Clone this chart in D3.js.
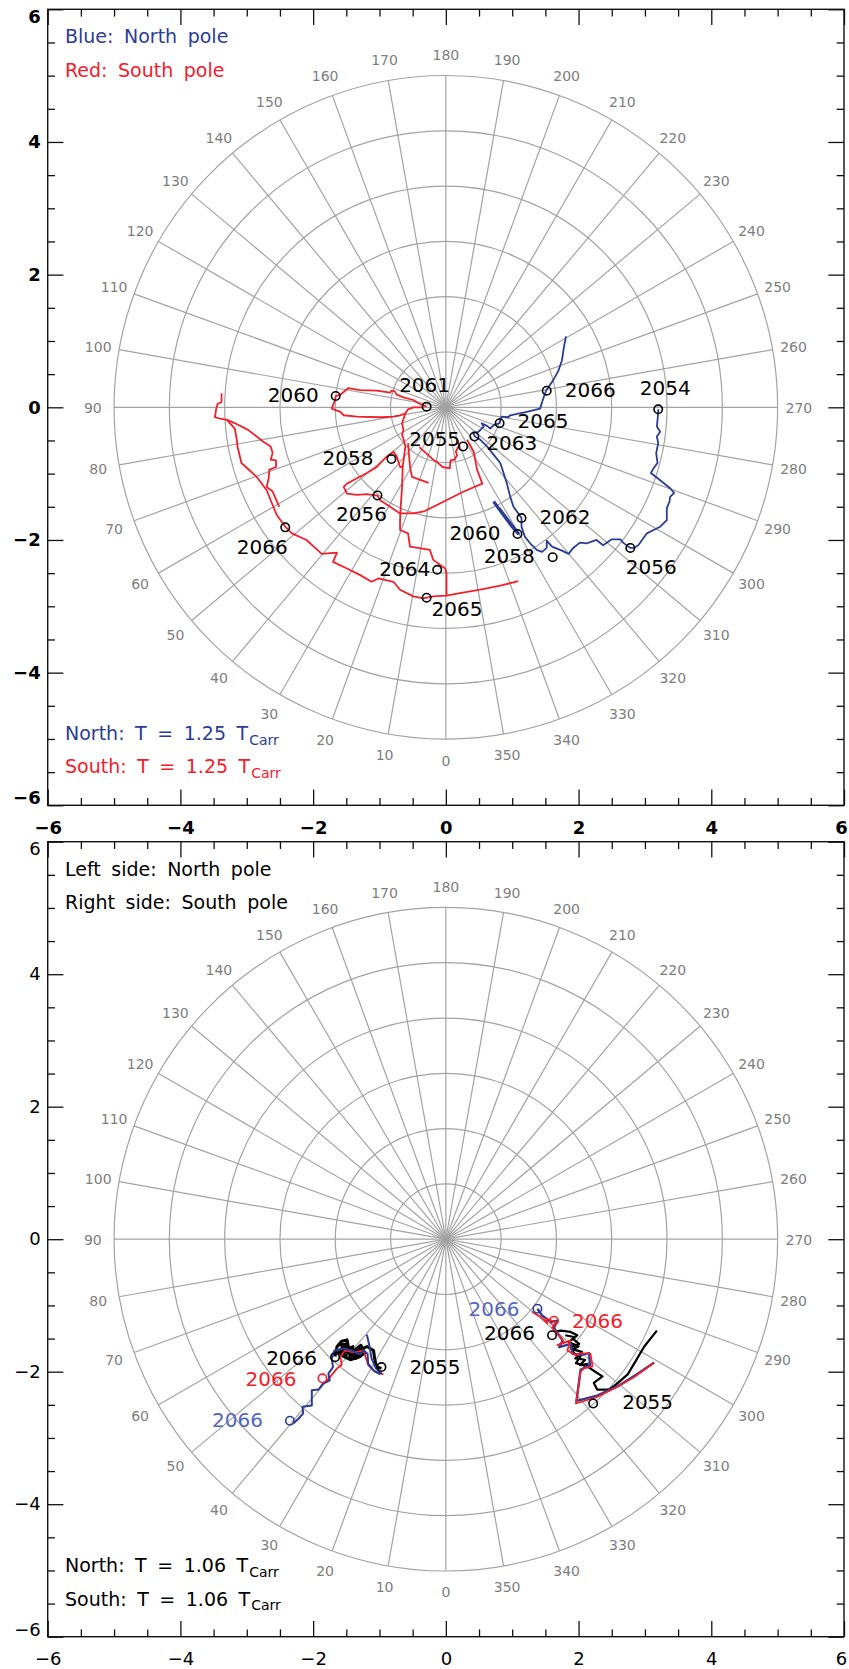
<!DOCTYPE html>
<html>
<head>
<meta charset="utf-8">
<script src="https://cdn.jsdelivr.net/npm/d3@7"></script>
<style>
  body { margin: 0; background: #fff; }
  svg { display: block; }
  text { font-family: "DejaVu Sans", sans-serif; }
</style>
</head>
<body>
<div id="chart"></div>
<script>
// ---------- data ----------
var majorTicks = [-6, -4, -2, 0, 2, 4, 6];
var minorTicks = [-6, -5.5, -5, -4.5, -4, -3.5, -3, -2.5, -2, -1.5, -1, -0.5, 0,
                  0.5, 1, 1.5, 2, 2.5, 3, 3.5, 4, 4.5, 5, 5.5, 6];
var ringRadii = [0.833, 1.667, 2.5, 3.333, 4.167, 5];
var spokeAngles = [0, 10, 20, 30, 40, 50, 60, 70, 80, 90, 100, 110, 120, 130, 140, 150, 160, 170,
                   180, 190, 200, 210, 220, 230, 240, 250, 260, 270, 280, 290, 300, 310, 320, 330, 340, 350];
var outerRadius = 5;
var spokeLabelRadius = 5.32;

// top panel: red = south pole track (several pieces)
var topRedTrack = [
  [[-3.38,0.21],[-3.38,0.08],[-3.44,0.05],[-3.46,-0.02],[-3.48,-0.15],[-3.40,-0.17],[-3.30,-0.19],
   [-3.20,-0.23],[-2.98,-0.34],[-2.75,-0.52],[-2.64,-0.59],[-2.61,-0.69],[-2.64,-0.79],[-2.56,-0.80],
   [-2.56,-0.90],[-2.66,-0.94],[-2.67,-1.07],[-2.70,-1.20],[-2.61,-1.27],[-2.51,-1.50]],
  [[-3.30,-0.19],[-3.18,-0.32],[-3.15,-0.49],[-3.14,-0.59],[-3.08,-0.84],[-2.85,-1.05],[-2.70,-1.25],
   [-2.62,-1.45],[-2.55,-1.62],[-2.42,-1.80],[-2.32,-1.90],[-2.10,-2.00],[-1.97,-2.12],[-1.87,-2.21],
   [-1.64,-2.19],[-1.70,-2.33],[-1.49,-2.43],[-1.29,-2.53],[-1.12,-2.63],[-1.02,-2.58],[-0.79,-2.63],
   [-0.69,-2.75],[-0.49,-2.85],[-0.34,-2.88],[-0.19,-2.85],[0.01,-2.84],[0.21,-2.80],[0.52,-2.75],
   [0.82,-2.69],[1.09,-2.62]],
  [[-0.61,-0.09],[-0.66,-0.24],[-0.64,-0.34],[-0.66,-0.42],[-0.64,-0.47],[-0.61,-0.59],[-0.65,-0.90],
   [-0.66,-1.20],[-0.68,-1.50],[-0.69,-1.70],[-0.69,-1.85],[-0.57,-1.90],[-0.54,-2.10],[-0.24,-2.15],
   [-0.19,-2.30],[-0.01,-2.43],[0.01,-2.50],[0.01,-2.70],[0.01,-2.84]],
  [[0.32,-0.49],[0.42,-0.67],[0.47,-0.94],[0.55,-1.15],[0.27,-1.27],[-0.03,-1.42],[-0.33,-1.57],
   [-0.49,-1.60],[-0.69,-1.60],[-0.84,-1.50],[-0.99,-1.40],[-1.03,-1.33],[-1.19,-1.31],[-1.34,-1.32],
   [-1.49,-1.30],[-1.54,-1.20],[-1.49,-1.15],[-1.34,-1.07],[-1.19,-0.99],[-1.04,-0.90],[-0.89,-0.74],
   [-0.79,-0.67],[-0.74,-0.74],[-0.69,-0.90],[-0.65,-0.90]],
  [[-0.57,-0.54],[-0.54,-0.90],[-0.51,-1.05],[-0.26,-1.14]],
  [[0.17,-0.49],[0.20,-0.57],[0.15,-0.67],[0.17,-0.72],[0.13,-0.79],[0.07,-0.80],[0.06,-0.92],
   [-0.05,-0.90],[-0.14,-0.82],[-0.19,-0.79],[-0.40,-0.60]],
  [[-0.34,0.00],[-0.49,0.00],[-0.57,-0.03],[-0.61,-0.09],[-0.69,-0.12],[-0.79,-0.14],[-0.99,-0.15],
   [-1.34,-0.14],[-1.54,-0.12],[-1.59,-0.07],[-1.72,-0.02],[-1.67,0.11],[-1.66,0.17],[-1.59,0.19],
   [-1.47,0.29],[-1.29,0.26],[-1.04,0.25],[-0.84,0.22],[-0.82,0.25],[-0.77,0.24],[-0.74,0.19],
   [-0.64,0.15],[-0.49,0.11],[-0.39,0.05],[-0.29,0.01]]
];

// top panel: blue = north pole track
var topBlueTrack = [
  [[3.20,-0.03],[3.20,-0.09],[3.18,-0.29],[3.23,-0.37],[3.18,-0.44],[3.20,-0.54],[3.17,-0.69],
   [3.19,-0.84],[3.13,-0.92],[3.09,-0.99],[3.23,-1.10],[3.38,-1.22],[3.44,-1.29],[3.38,-1.35],
   [3.37,-1.42],[3.33,-1.52],[3.33,-1.70],[3.23,-1.80],[3.13,-1.85],[3.03,-1.90],[2.90,-2.08],
   [2.83,-2.12],[2.78,-2.12],[2.67,-2.04],[2.63,-1.99],[2.50,-1.99],[2.37,-2.08],[2.27,-2.00],
   [2.12,-2.05],[2.02,-2.04],[1.92,-2.12],[1.85,-2.21],[1.75,-2.16],[1.60,-2.10],[1.52,-2.01],
   [1.52,-2.12],[1.45,-2.18],[1.37,-2.15],[1.27,-2.05],[1.19,-1.95],[1.14,-1.80],[1.14,-1.67],
   [1.02,-1.50],[0.97,-1.35],[0.92,-1.15],[0.87,-0.99],[0.82,-0.84],[0.74,-0.74],[0.62,-0.59],
   [0.52,-0.49],[0.44,-0.44],[0.41,-0.39],[0.49,-0.37],[0.57,-0.29],[0.54,-0.24],[0.62,-0.28],
   [0.67,-0.32],[0.72,-0.27],[0.81,-0.24],[0.84,-0.14],[0.94,-0.15],[0.97,-0.12],[1.22,-0.07],
   [1.42,-0.02],[1.46,0.11],[1.51,0.25],[1.62,0.41],[1.70,0.56],[1.75,0.71],[1.78,0.91],[1.81,1.07]]
];
var topBlueSpur = [[0.72,-1.42],[0.85,-1.60],[1.00,-1.80],[1.09,-1.90],[0.98,-1.76],[0.80,-1.52]];

var topRedYears = [
  {year: 2055, x: 0.26, y: -0.59}, {year: 2056, x: -1.03, y: -1.33}, {year: 2058, x: -0.82, y: -0.78},
  {year: 2060, x: -1.66, y: 0.17}, {year: 2061, x: -0.29, y: 0.01}, {year: 2064, x: -0.13, y: -2.45},
  {year: 2065, x: -0.29, y: -2.87}, {year: 2066, x: -2.42, y: -1.81}
];
var topBlueYears = [
  {year: 2054, x: 3.20, y: -0.03}, {year: 2056, x: 2.78, y: -2.12}, {year: 2058, x: 1.61, y: -2.26},
  {year: 2060, x: 1.08, y: -1.91}, {year: 2062, x: 1.14, y: -1.67}, {year: 2063, x: 0.43, y: -0.44},
  {year: 2065, x: 0.81, y: -0.24}, {year: 2066, x: 1.52, y: 0.25}
];

// bottom panel tracks
var botNorthBlue = [
  [[-2.30,-2.78],[-2.22,-2.71],[-2.15,-2.63],[-2.16,-2.53],[-2.02,-2.51],[-2.02,-2.28],[-1.92,-2.27],
   [-1.85,-2.18],[-1.75,-2.13],[-1.77,-2.03],[-1.70,-1.93],[-1.72,-1.81],[-1.68,-1.68],[-1.54,-1.65],
   [-1.42,-1.68],[-1.29,-1.74],[-1.24,-1.68],[-1.18,-1.73],[-1.17,-1.88],[-1.09,-1.98],[-0.99,-2.04]],
  [[-1.19,-1.44],[-1.15,-1.62],[-1.12,-1.80],[-1.06,-1.94],[-0.97,-2.03]]
];
var botNorthRed = [
  [[-1.80,-2.15],[-1.72,-2.05],[-1.64,-1.95],[-1.57,-1.90],[-1.59,-1.77],[-1.52,-1.68],[-1.39,-1.71],
   [-1.24,-1.68],[-1.17,-1.90],[-1.07,-2.00],[-0.94,-2.04]]
];
var botNorthBlack = [
  [[-1.67,-1.77],[-1.64,-1.62],[-1.57,-1.54],[-1.49,-1.52],[-1.47,-1.62],[-1.54,-1.68],[-1.44,-1.73],
   [-1.34,-1.65],[-1.24,-1.68],[-1.29,-1.77],[-1.44,-1.82],[-1.54,-1.77],[-1.59,-1.73],[-1.49,-1.68],
   [-1.39,-1.77],[-1.32,-1.68],[-1.19,-1.62],[-1.09,-1.68],[-1.07,-1.82],[-1.04,-1.93],[-0.97,-1.95]],
  [[-1.62,-1.60],[-1.50,-1.58],[-1.58,-1.70],[-1.40,-1.62],[-1.45,-1.78],[-1.30,-1.70],[-1.36,-1.80],
   [-1.22,-1.72],[-1.28,-1.60],[-1.40,-1.70],[-1.55,-1.62],[-1.62,-1.72],[-1.48,-1.75]]
];
var botSouthRed = [
  [[1.30,-1.10],[1.43,-1.17],[1.53,-1.27],[1.51,-1.20],[1.66,-1.25],[1.60,-1.34],[1.73,-1.48],
   [1.78,-1.55],[1.68,-1.60],[1.88,-1.53],[1.83,-1.68],[1.96,-1.75],[2.03,-1.72],[2.18,-1.73],
   [2.21,-1.92],[2.08,-1.95],[2.03,-2.00],[1.96,-2.48],[2.28,-2.38],[2.58,-2.23],[2.84,-2.08],[3.13,-1.87]]
];
var botSouthBlue = [
  [[1.38,-1.05],[1.45,-1.15],[1.58,-1.25],[1.68,-1.23],[1.63,-1.34],[1.76,-1.53],[1.71,-1.63],
   [1.88,-1.58],[1.91,-1.73],[2.03,-1.75],[2.16,-1.72],[2.17,-1.90],[2.03,-1.97],[1.97,-2.44],
   [2.28,-2.36],[2.61,-2.21],[2.89,-2.03],[3.14,-1.86]]
];
var botSouthBlack = [
  [[1.66,-1.39],[1.73,-1.38],[1.88,-1.40],[1.98,-1.45],[1.91,-1.50],[2.01,-1.58],[1.88,-1.63],
   [1.93,-1.72],[2.03,-1.77],[1.96,-1.87],[2.13,-1.92],[2.28,-2.02],[2.36,-2.07],[2.23,-2.17],
   [2.28,-2.27],[2.46,-2.27],[2.58,-2.18],[2.74,-2.04],[2.86,-1.84],[2.99,-1.62],[3.18,-1.38]],
  [[1.80,-1.45],[1.95,-1.48],[1.85,-1.55],[2.00,-1.62],[1.90,-1.66],[2.05,-1.70],[1.95,-1.80],
   [2.10,-1.82],[2.02,-1.90],[2.15,-1.88]]
];
var botYears = [
  {label: "2066", tone: "lightblue", x: -2.35, y: -2.74},
  {label: "2066", tone: "red", x: -1.86, y: -2.10},
  {label: "2066", tone: "black", x: -1.67, y: -1.78},
  {label: "2055", tone: "black", x: -0.97, y: -1.93},
  {label: "2066", tone: "lightblue", x: 1.38, y: -1.05},
  {label: "2066", tone: "red", x: 1.63, y: -1.23},
  {label: "2066", tone: "black", x: 1.60, y: -1.45},
  {label: "2055", tone: "black", x: 2.22, y: -2.48}
];

// ---------- layout / style ----------
var BLUE = "#2b3c95", RED = "#f2202b", LIGHTBLUE = "#5567bd", GRID = "#a3a3a3", GRIDTEXT = "#7e7e7e";
var toneColor = {black: "#000", red: RED, lightblue: LIGHTBLUE, blue: BLUE};

// label placement [anchor, dx, dy] in pixels
var topRedLabelPos = {2055: ["end", -3, -8], 2056: ["middle", -16, 18], 2058: ["end", -18, -1],
  2060: ["end", -17, -1], 2061: ["middle", -2, -22], 2064: ["end", -7, -1], 2065: ["start", 5, 11],
  2066: ["middle", -23, 19]};
var topBlueLabelPos = {2054: ["middle", 7, -21], 2056: ["middle", 21, 19], 2058: ["end", -18, -1],
  2060: ["end", -17, -1], 2062: ["start", 18, -1], 2063: ["start", 12, 6], 2065: ["start", 18, -2],
  2066: ["start", 18, -1]};
var botLabelPos = [["end", -27, -1], ["end", -26, 0], ["end", -18, 1], ["start", 28, 0],
                   ["end", -18, 0], ["start", 18, 0], ["end", -17, -2], ["start", 29, -2]];

var W = 849, H = 1669;
var svg = d3.select("#chart").append("svg").attr("width", W).attr("height", H);
var x = d3.scaleLinear().domain([-6, 6]).range([47.7, 844]);
var rad = Math.PI / 180;

function polar(a, r) { return [-r * Math.sin(a * rad), -r * Math.cos(a * rad)]; }

function drawPanel(p) {
  var y = d3.scaleLinear().domain([-6, 6]).range([p.bottom, p.top]);
  var g = svg.append("g");

  // polar grid
  var grid = g.append("g").attr("stroke", GRID).attr("stroke-width", 1.2).attr("fill", "none");
  grid.selectAll("circle").data(ringRadii).join("circle")
    .attr("cx", x(0)).attr("cy", y(0)).attr("r", d => x(d) - x(0));
  grid.selectAll("line").data(spokeAngles).join("line")
    .attr("x1", x(0)).attr("y1", y(0))
    .attr("x2", d => x(polar(d, outerRadius)[0]))
    .attr("y2", d => y(polar(d, outerRadius)[1]));
  g.append("g").selectAll("text").data(spokeAngles).join("text")
    .attr("x", d => x(polar(d, spokeLabelRadius)[0]))
    .attr("y", d => y(polar(d, spokeLabelRadius)[1]))
    .attr("dy", "0.4em")
    .attr("text-anchor", "middle")
    .attr("font-size", 14)
    .attr("fill", GRIDTEXT)
    .text(d => d);

  // tracks
  var line = d3.line().x(d => x(d[0])).y(d => y(d[1]));
  p.tracks.forEach(function (t) {
    g.append("g").selectAll("path").data(t.data).join("path")
      .attr("d", line)
      .attr("fill", "none")
      .attr("stroke", t.color)
      .attr("stroke-width", t.width)
      .attr("stroke-linejoin", "round");
  });

  // year markers + labels
  p.years.forEach(function (ys) {
    var mk = g.append("g");
    mk.selectAll("circle").data(ys.data).join("circle")
      .attr("cx", d => x(d.x)).attr("cy", d => y(d.y)).attr("r", 4.2)
      .attr("fill", "none")
      .attr("stroke", d => ys.markerColor(d))
      .attr("stroke-width", 1.6);
    mk.selectAll("text").data(ys.data).join("text")
      .attr("x", (d, i) => x(d.x) + ys.pos(d, i)[1])
      .attr("y", (d, i) => y(d.y) + ys.pos(d, i)[2])
      .attr("dy", "0.36em")
      .attr("text-anchor", (d, i) => ys.pos(d, i)[0])
      .attr("font-size", 20)
      .attr("fill", d => ys.textColor(d))
      .text(d => d.label || d.year);
  });

  // frame and ticks
  var left = x.range()[0], right = x.range()[1];
  var minorOnly = minorTicks.filter(d => d % 2 !== 0);
  var axes = g.append("g");
  function styleAxis(sel) {
    sel.select(".domain").remove();
    sel.selectAll("line").attr("stroke", "#111").attr("stroke-width", 1.3);
    sel.selectAll("text").attr("fill", "#000").attr("font-size", 18)
      .attr("font-weight", p.boldTicks ? "bold" : "normal")
      .attr("font-family", "DejaVu Sans, sans-serif");
  }
  var fmt = d3.format("d");
  var xl = axes.append("g").attr("transform", "translate(0," + p.bottom + ")")
    .call(d3.axisBottom(x).tickValues(majorTicks).tickSizeInner(-15.7).tickSizeOuter(0).tickPadding(16).tickFormat(fmt))
    .call(styleAxis);
  xl.selectAll("text").attr("transform", d => d === 6 ? "translate(-3,0)" : null);
  axes.append("g").attr("transform", "translate(0," + p.bottom + ")")
    .call(d3.axisBottom(x).tickValues(minorOnly).tickSizeInner(-7.3).tickSizeOuter(0).tickFormat(""))
    .call(styleAxis);
  axes.append("g").attr("transform", "translate(0," + p.top + ")")
    .call(d3.axisTop(x).tickValues(majorTicks).tickSizeInner(-15.7).tickSizeOuter(0).tickFormat(""))
    .call(styleAxis);
  axes.append("g").attr("transform", "translate(0," + p.top + ")")
    .call(d3.axisTop(x).tickValues(minorOnly).tickSizeInner(-7.3).tickSizeOuter(0).tickFormat(""))
    .call(styleAxis);
  var yl = axes.append("g").attr("transform", "translate(" + left + ",0)")
    .call(d3.axisLeft(y).tickValues(majorTicks).tickSizeInner(-15.7).tickSizeOuter(0).tickPadding(7).tickFormat(fmt))
    .call(styleAxis);
  yl.selectAll("text").attr("transform", d => d === 6 ? "translate(0,7.4)" : d === -6 ? "translate(0,-7.4)" : null);
  axes.append("g").attr("transform", "translate(" + left + ",0)")
    .call(d3.axisLeft(y).tickValues(minorOnly).tickSizeInner(-7.3).tickSizeOuter(0).tickFormat(""))
    .call(styleAxis);
  axes.append("g").attr("transform", "translate(" + right + ",0)")
    .call(d3.axisRight(y).tickValues(majorTicks).tickSizeInner(-15.7).tickSizeOuter(0).tickFormat(""))
    .call(styleAxis);
  axes.append("g").attr("transform", "translate(" + right + ",0)")
    .call(d3.axisRight(y).tickValues(minorOnly).tickSizeInner(-7.3).tickSizeOuter(0).tickFormat(""))
    .call(styleAxis);
  g.append("rect").attr("x", left).attr("y", p.top)
    .attr("width", right - left).attr("height", p.bottom - p.top)
    .attr("fill", "none").attr("stroke", "#111").attr("stroke-width", 1.4);

  // legend text
  p.legend.forEach(function (l) {
    var t = g.append("text").attr("x", 65).attr("y", p.top + l.dy)
      .attr("font-size", 19).attr("fill", l.color)
      .style("word-spacing", "4.5px")
      .text(l.text);
    if (l.sub) {
      t.append("tspan").attr("dx", 1).attr("dy", 4.5).attr("font-size", 14).text(l.sub);
    }
  });
}

// top panel
drawPanel({
  top: 9.3, bottom: 805.3, boldTicks: true,
  tracks: [
    {data: topRedTrack, color: RED, width: 1.8},
    {data: topBlueTrack, color: BLUE, width: 1.8},
    {data: [topBlueSpur], color: BLUE, width: 3.2}
  ],
  years: [
    {data: topRedYears, pos: d => topRedLabelPos[d.year], markerColor: () => "#000", textColor: () => "#000"},
    {data: topBlueYears, pos: d => topBlueLabelPos[d.year], markerColor: () => "#000", textColor: () => "#000"}
  ],
  legend: [
    {text: "Blue: North pole", color: BLUE, dy: 34},
    {text: "Red: South pole", color: RED, dy: 67.4},
    {text: "North: T = 1.25 T", sub: "Carr", color: BLUE, dy: 730.7},
    {text: "South: T = 1.25 T", sub: "Carr", color: RED, dy: 764}
  ]
});

// bottom panel
drawPanel({
  top: 841.7, bottom: 1636.7, boldTicks: false,
  tracks: [
    {data: botNorthBlack, color: "#000", width: 3},
    {data: botNorthRed, color: RED, width: 1.8},
    {data: botNorthBlue, color: BLUE, width: 2},
    {data: botSouthBlack, color: "#000", width: 2.2},
    {data: botSouthBlue, color: BLUE, width: 2.4},
    {data: botSouthRed, color: RED, width: 1.8}
  ],
  years: [
    {data: botYears, pos: (d, i) => botLabelPos[i],
     markerColor: d => d.tone === "lightblue" ? BLUE : toneColor[d.tone],
     textColor: d => toneColor[d.tone]}
  ],
  legend: [
    {text: "Left side: North pole", color: "#000", dy: 34},
    {text: "Right side: South pole", color: "#000", dy: 67.4},
    {text: "North: T = 1.06 T", sub: "Carr", color: "#000", dy: 730.7},
    {text: "South: T = 1.06 T", sub: "Carr", color: "#000", dy: 764}
  ]
});
</script>
</body>
</html>
